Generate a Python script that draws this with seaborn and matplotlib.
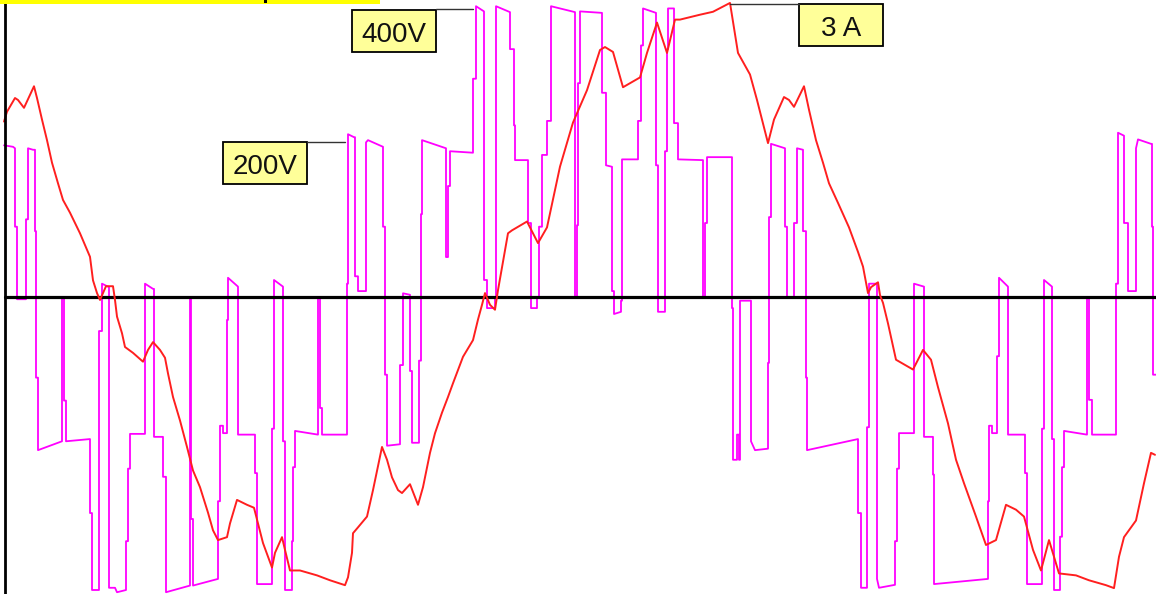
import matplotlib
matplotlib.use("Agg")
import matplotlib.pyplot as plt
import seaborn as sns
from matplotlib.patches import Rectangle
from matplotlib.lines import Line2D

# scope capture: sample index vs inverter voltage (V) and phase current (A)
volt_points = [
    (4, 205), (13, 203), (15, 201), (15, 95), (17, 95), (17, -3), (26, -3), (26, 105), (28, 105), (28, 201),
    (33, 199), (35, 199), (35, 89), (36, 89), (36, -109), (38, -109), (38, -207), (62, -195), (62, 0), (64, 0),
    (64, -140), (66, -140), (66, -195), (90, -192), (90, -292), (92, -292), (92, -396), (99, -396), (99, -46),
    (102, -46), (102, 18), (108, 14), (109, 14), (109, -393), (115, -393), (117, -399), (126, -396), (126, -330),
    (128, -330), (128, -232), (130, -232), (130, -185), (145, -185), (145, 18), (153, 11), (154, 11), (154, -189),
    (163, -189), (163, -243), (166, -243), (166, -399), (190, -390), (190, 0), (191, 0), (191, -300), (193, -300),
    (193, -390), (218, -381), (218, -276), (220, -276), (220, -174), (223, -174), (223, -184), (227, -184),
    (227, -31), (228, -31), (228, 26), (238, 14), (238, -186), (255, -186), (255, -238), (257, -238), (257, -388),
    (272, -388), (272, -178), (274, -178), (274, 23), (283, 14), (283, -195), (285, -195), (285, -396), (292, -396),
    (292, -330), (293, -330), (293, -230), (295, -230), (295, -181), (318, -186), (318, 0), (320, 0), (320, -150),
    (322, -150), (322, -186), (347, -186), (347, 18), (348, 18), (348, 220), (354, 216), (355, 216), (355, 28),
    (358, 28), (358, 8), (366, 8), (366, 209), (368, 212), (383, 203), (383, 95), (385, 95), (385, -105),
    (387, -105), (387, -201), (400, -199), (400, -92), (403, -92), (403, 5), (410, 3), (410, -100), (412, -100),
    (412, -197), (419, -197), (419, -86), (421, -86), (421, 112), (422, 112), (422, 212), (446, 201), (446, 54),
    (448, 54), (448, 150), (450, 150), (450, 197), (473, 195), (473, 295), (476, 295), (476, 393), (484, 386),
    (484, 23), (487, 23), (487, -15), (495, -15), (495, 0), (496, 0), (496, 393), (510, 385), (510, 335),
    (514, 335), (514, 232), (515, 232), (515, 185), (528, 185), (528, 100), (531, 100), (531, -15), (537, -15),
    (537, 0), (539, 0), (539, 95), (542, 95), (542, 192), (547, 192), (547, 238), (551, 238), (551, 393),
    (575, 385), (575, 0), (577, 0), (577, 97), (578, 97), (578, 289), (580, 289), (580, 386), (602, 384),
    (602, 276), (606, 276), (606, 178), (612, 176), (612, 8), (614, 8), (614, -23), (621, -20), (621, -5),
    (622, -5), (622, 186), (638, 186), (638, 238), (641, 238), (641, 340), (643, 340), (643, 390), (656, 384),
    (656, 178), (658, 178), (658, -20), (665, -20), (665, 197), (667, 197), (667, 335), (668, 335), (668, 390),
    (674, 390), (674, 235), (678, 235), (678, 186), (703, 185), (703, 0), (705, 0), (705, 100), (707, 100),
    (707, 189), (732, 189), (732, -15), (733, -15), (733, -220), (737, -220), (737, -186), (739, -186),
    (739, -220), (740, -220), (740, -5), (751, -5), (751, -195), (755, -207), (768, -205), (768, -89), (769, -89),
    (769, 108), (771, 108), (771, 207), (785, 201), (785, 95), (787, 95), (787, -1), (794, -1), (794, 100),
    (797, 100), (797, 201), (803, 199), (803, 89), (806, 89), (806, -109), (807, -109), (807, -207), (858, -192),
    (858, -292), (861, -292), (861, -393), (867, -393), (867, -176), (869, -176), (869, 18), (877, 18),
    (877, -381), (879, -393), (895, -389), (895, -330), (897, -330), (897, -232), (899, -232), (899, -184),
    (914, -184), (914, 18), (924, 14), (924, -189), (933, -189), (933, -240), (934, -240), (934, -388),
    (988, -381), (988, -276), (989, -276), (989, -174), (992, -174), (992, -184), (997, -184), (997, -80),
    (999, -80), (999, 26), (1008, 14), (1008, -186), (1025, -186), (1025, -238), (1027, -238), (1027, -388),
    (1042, -388), (1042, -178), (1044, -178), (1044, 23), (1052, 14), (1052, -192), (1054, -192), (1054, -396),
    (1060, -396), (1060, -324), (1062, -324), (1062, -230), (1064, -230), (1064, -181), (1087, -186), (1087, 0),
    (1089, 0), (1089, -139), (1092, -139), (1092, -186), (1116, -186), (1116, 18), (1118, 18), (1118, 222),
    (1124, 218), (1124, 100), (1128, 100), (1128, 8), (1136, 8), (1136, 201), (1138, 213), (1151, 207),
    (1152, 207), (1152, 95), (1153, 95), (1153, -105), (1156, -105),
]

curr_points = [
    (4, 1.79), (7, 1.89), (15, 2.03), (18, 2.01), (24, 1.93), (29, 2.04), (34, 2.15), (37, 2.03), (42, 1.81),
    (47, 1.60), (52, 1.37), (58, 1.16), (63, 0.99), (70, 0.86), (80, 0.65), (87, 0.48), (90, 0.41), (93, 0.17),
    (97, 0.04), (100, -0.03), (106, 0.11), (113, 0.11), (115, -0.03), (117, -0.20), (122, -0.37), (125, -0.51),
    (133, -0.57), (143, -0.66), (148, -0.54), (153, -0.46), (160, -0.54), (165, -0.62), (168, -0.78),
    (173, -1.02), (180, -1.26), (187, -1.53), (193, -1.77), (200, -1.94), (208, -2.20), (213, -2.38),
    (218, -2.48), (227, -2.45), (230, -2.31), (237, -2.07), (247, -2.12), (254, -2.15), (258, -2.31),
    (263, -2.51), (268, -2.65), (272, -2.76), (275, -2.61), (282, -2.45), (285, -2.58), (290, -2.79),
    (300, -2.79), (317, -2.84), (330, -2.89), (345, -2.94), (348, -2.86), (352, -2.61), (353, -2.41),
    (358, -2.35), (367, -2.24), (373, -1.97), (382, -1.53), (387, -1.66), (392, -1.84), (398, -1.97),
    (402, -2.00), (410, -1.91), (418, -2.12), (423, -1.94), (430, -1.59), (435, -1.39), (442, -1.18),
    (448, -1.02), (453, -0.88), (463, -0.61), (473, -0.44), (478, -0.23), (482, -0.08), (485, 0.04),
    (490, -0.08), (495, -0.13), (498, 0.07), (508, 0.65), (512, 0.68), (527, 0.77), (538, 0.55), (547, 0.71),
    (560, 1.33), (573, 1.78), (587, 2.11), (600, 2.52), (605, 2.55), (613, 2.50), (623, 2.14), (640, 2.24),
    (647, 2.49), (657, 2.80), (667, 2.49), (675, 2.83), (680, 2.83), (700, 2.88), (713, 2.91), (730, 3.00),
    (738, 2.49), (750, 2.27), (757, 2.01), (768, 1.57), (774, 1.81), (784, 2.04), (789, 2.01), (794, 1.94),
    (804, 2.15), (809, 1.91), (816, 1.60), (823, 1.37), (829, 1.16), (838, 0.96), (849, 0.71), (858, 0.46),
    (863, 0.31), (868, 0.04), (871, 0.10), (878, 0.15), (880, 0.02), (883, -0.06), (888, -0.27), (896, -0.64),
    (913, -0.74), (923, -0.54), (931, -0.64), (938, -0.92), (948, -1.29), (956, -1.66), (964, -1.90),
    (976, -2.24), (986, -2.53), (996, -2.48), (1006, -2.12), (1016, -2.17), (1024, -2.24), (1033, -2.58),
    (1041, -2.79), (1049, -2.48), (1054, -2.65), (1059, -2.82), (1076, -2.84), (1089, -2.89), (1106, -2.94),
    (1114, -2.97), (1119, -2.65), (1124, -2.45), (1136, -2.28), (1144, -1.90), (1151, -1.59), (1155, -1.61),
]

label_texts = ["400V", "200V", "3 A"]

volt_t, volt_v = zip(*volt_points)
curr_t, curr_a = zip(*curr_points)

sns.set_style("white")
plt.rcParams['font.family'] = ['Liberation Sans', 'DejaVu Sans']

W, H = 1156, 594
fig = plt.figure(figsize=(W / 100, H / 100), dpi=100)
fig.patch.set_facecolor("white")
ax = fig.add_axes([0, 0, 1, 1])

# voltage trace (magenta) plus zero line
sns.lineplot(x=list(volt_t), y=list(volt_v), estimator=None, sort=False,
             color="#ff00ff", linewidth=1.3, ax=ax)
ax.set_xlim(0, W)
ax.set_ylim(-401.4, 401.4)
ax.axhline(0, xmin=4.5 / W, color="black", linewidth=2.3, zorder=3)
ax.axis("off")

# current trace (red) on its own scale
ax2 = ax.twinx()
sns.lineplot(x=list(curr_t), y=list(curr_a), estimator=None, sort=False,
             color="#ff1f1f", linewidth=1.4, ax=ax2)
ax2.set_ylim(-3.03, 3.03)
ax2.axvline(4.5, color="black", linewidth=2, zorder=5)
ax2.axis("off")


def fig_rect(left, top, w, h, **kw):
    r = Rectangle((left / W, 1 - (top + h) / H), w / W, h / H,
                  transform=fig.transFigure, **kw)
    fig.add_artist(r)


def fig_line(x1, x2, y):
    fig.add_artist(Line2D([x1 / W, x2 / W], [1 - y / H, 1 - y / H],
                          transform=fig.transFigure, color="#333333", linewidth=1))


# scale labels: (text, box left, box top, leader start, leader end, leader y)
labels = [
    (label_texts[0], 352, 10, 436, 473, 9),
    (label_texts[1], 223, 142, 307, 345, 142),
    (label_texts[2], 799, 4, 730, 799, 4),
]
for txt, left, top, lx1, lx2, ly in labels:
    fig_line(lx1, lx2, ly)
    fig_rect(left, top, 84, 42, facecolor="#ffff99", edgecolor="black", linewidth=1.3)
    fig.text((left + 42) / W, 1 - (top + 31.5) / H, txt, ha="center", va="baseline",
             fontsize=20, color="#111111")

# strip of the title box cut off at the top
fig_rect(0, 0, 380, 4, facecolor="#ffff00", edgecolor="none")
fig_rect(264, 0, 3, 3, facecolor="black", edgecolor="none")

fig.savefig("out.png", dpi=100)
